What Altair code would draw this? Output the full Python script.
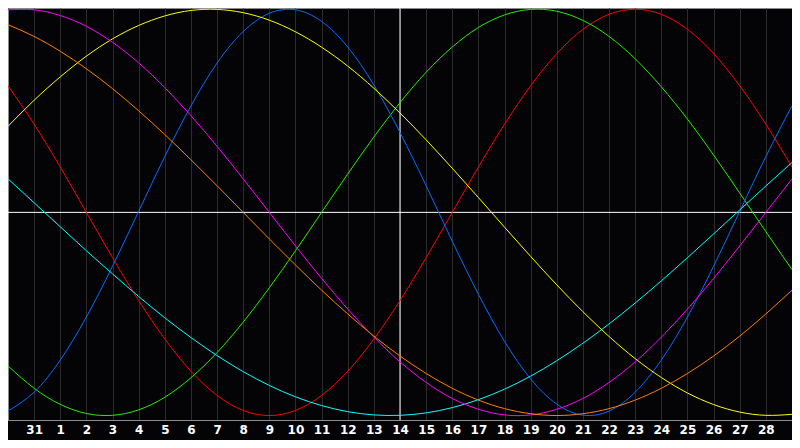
import altair as alt
import pandas as pd

# Day index 0..30 (day 30 of the previous month .. day 29)
t_vals = list(range(0, 31))
all_labels = ["30", "31", "1", "2", "3", "4", "5", "6", "7", "8", "9", "10", "11", "12",
              "13", "14", "15", "16", "17", "18", "19", "20", "21", "22", "23", "24", "25",
              "26", "27", "28", "29"]
tick_pos = list(range(1, 30))
today = [15]

names = ["red", "green", "blue", "cyan", "yellow", "magenta", "orange"]
colors = ["#ff0000", "#22f000", "#0a6cff", "#00ffff", "#ffff00", "#ff00ff", "#ff7f00"]

red = [62.3, 43.4, 22.3, 0.0, -22.3, -43.4, -62.3, -78.2, -90.1, -97.5, -100.0, -97.5, -90.1,
       -78.2, -62.3, -43.4, -22.3, 0.0, 22.3, 43.4, 62.3, 78.2, 90.1, 97.5, 100.0, 97.5, 90.1,
       78.2, 62.3, 43.4, 22.3]
green = [-75.6, -86.6, -94.5, -99.0, -99.9, -97.2, -91.0, -81.4, -69.0, -54.0, -37.1, -18.9, 0.0,
         18.9, 37.1, 54.0, 69.0, 81.4, 91.0, 97.2, 99.9, 99.0, 94.5, 86.6, 75.6, 61.8, 45.9, 28.2,
         9.5, -9.5, -28.2]
blue = [-97.8, -88.5, -72.7, -51.5, -26.5, 0.5, 27.5, 52.4, 73.5, 89.0, 98.0, 99.7, 94.0, 81.4,
        62.7, 39.3, 13.1, -14.2, -40.3, -63.5, -82.0, -94.4, -99.8, -97.8, -88.5, -72.7, -51.5,
        -26.5, 0.5, 27.5, 52.4]
cyan = [16.5, 4.7, -7.1, -18.9, -30.3, -41.4, -51.9, -61.6, -70.5, -78.4, -85.2, -90.8, -95.1,
        -98.1, -99.7, -99.9, -98.7, -96.1, -92.2, -87.0, -80.6, -73.0, -64.4, -54.9, -44.6, -33.7,
        -22.3, -10.6, 1.2, 13.0, 24.6]
yellow = [42.4, 55.2, 66.7, 76.9, 85.4, 92.0, 96.7, 99.4, 99.9, 98.3, 94.6, 88.9, 81.3, 72.0, 61.1,
          48.9, 35.7, 21.7, 7.3, -7.3, -21.7, -35.7, -48.9, -61.1, -72.0, -81.3, -88.9, -94.6,
          -98.3, -99.9, -99.4]
magenta = [99.7, 99.7, 96.9, 91.6, 83.7, 73.6, 61.4, 47.6, 32.5, 16.5, 0.0, -16.5, -32.5, -47.6,
           -61.4, -73.6, -83.7, -91.6, -96.9, -99.7, -99.7, -96.9, -91.6, -83.7, -73.6, -61.4,
           -47.6, -32.5, -16.5, 0.0, 16.5]
orange = [92.4, 86.6, 79.3, 70.7, 60.9, 50.0, 38.3, 25.9, 13.1, 0.0, -13.1, -25.9, -38.3, -50.0,
          -60.9, -70.7, -79.3, -86.6, -92.4, -96.6, -99.1, -100.0, -99.1, -96.6, -92.4, -86.6,
          -79.3, -70.7, -60.9, -50.0, -38.3]

series = dict(zip(names, [red, green, blue, cyan, yellow, magenta, orange]))
rows = []
for n in names:
    for t, v in zip(t_vals, series[n]):
        rows.append({"t": t, "value": v, "series": n})
df = pd.DataFrame(rows)

label_expr = "[" + ",".join("'%s'" % l for l in all_labels) + "][datum.value]"
x_enc = alt.X("t:Q", scale=alt.Scale(domain=[0, 30], nice=False, zero=False),
              axis=alt.Axis(values=tick_pos, grid=True, gridColor="#2c2c2c", gridWidth=1,
                            labelExpr=label_expr, labelColor="white", labelFont="DejaVu Sans",
                            labelFontWeight="bold", labelFontSize=12, ticks=False,
                            domainColor="#8c8c8c", title=None, labelPadding=4))
y_enc = alt.Y("value:Q", scale=alt.Scale(domain=[-102.2, 100.6], nice=False, zero=False), axis=None)

vrule = alt.Chart(pd.DataFrame({"t": today})).mark_rule(color="white", strokeWidth=1).encode(x=x_enc)
hrule = alt.Chart(pd.DataFrame({"value": [0]})).mark_rule(color="white", strokeWidth=1).encode(y=y_enc)
lines = alt.Chart(df).mark_line(strokeWidth=1, interpolate="natural", clip=True).encode(
    x=x_enc, y=y_enc,
    color=alt.Color("series:N", scale=alt.Scale(domain=names, range=colors), legend=None),
    detail="series:N")

chart = alt.layer(vrule, hrule, lines).properties(
    width=784, height=412, background="#040407",
    padding={"left": 0, "top": 0, "right": 0, "bottom": 20},
    autosize=alt.AutoSizeParams(type="none"),
).configure_view(stroke="#8c8c8c", strokeWidth=1)

chart.save("out.html", embed_options={"renderer": "svg", "actions": False})
